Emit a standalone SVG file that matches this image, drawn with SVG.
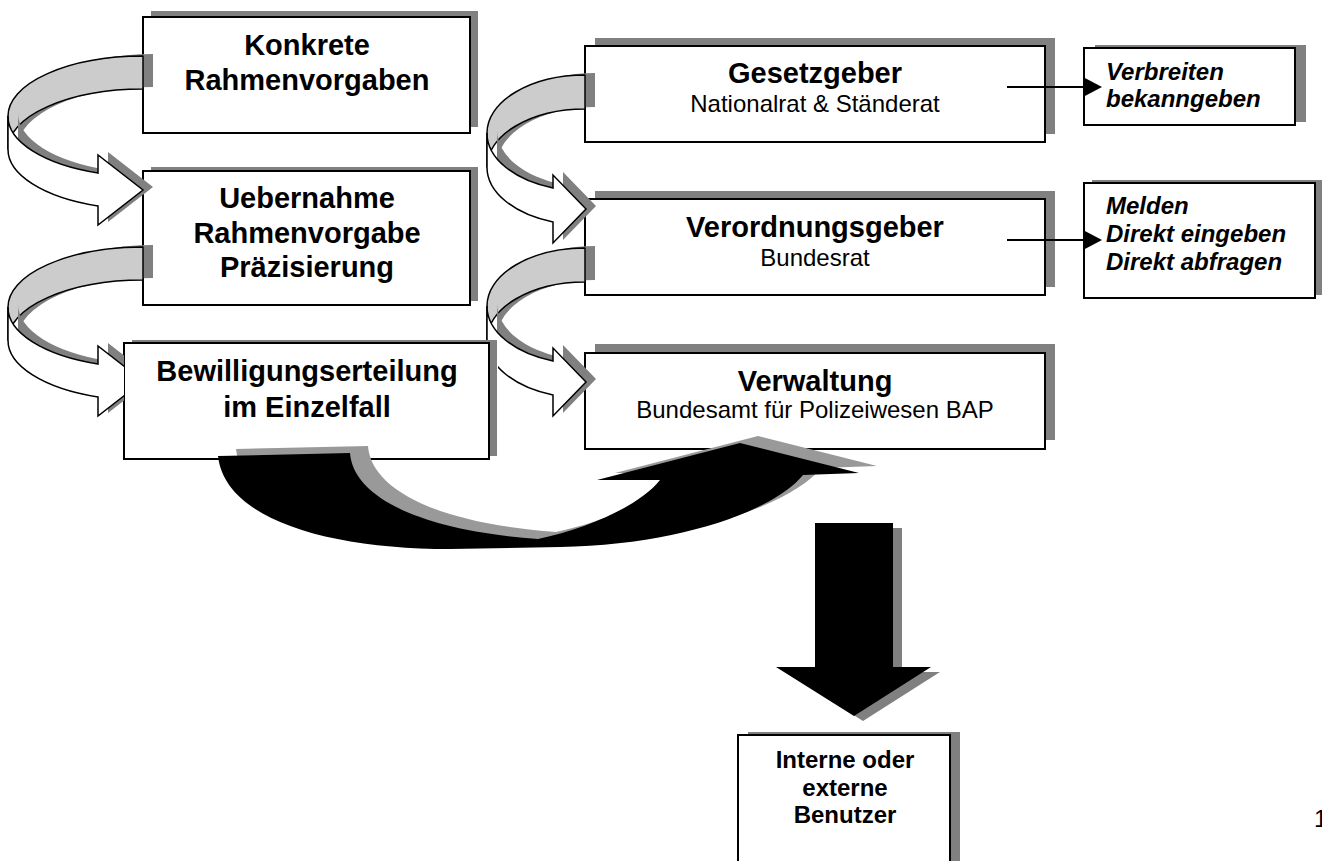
<svg xmlns="http://www.w3.org/2000/svg" width="1322" height="861" viewBox="0 0 1322 861">
<style>
.box{fill:#fff;stroke:#000;stroke-width:2}
.sh{fill:#808080}
.t{font-family:"Liberation Sans",Arial,sans-serif;fill:#000;text-anchor:middle}
.b29{font-size:29px;font-weight:bold}
.r24{font-size:24px}
.bi{font-family:"Liberation Sans",Arial,sans-serif;font-size:24px;font-weight:bold;font-style:italic;fill:#000}
.b24{font-size:24px;font-weight:bold}
.back{fill:#cccccc;stroke:#000;stroke-width:1.5;stroke-linejoin:round}
.front{fill:#fff;stroke:#000;stroke-width:1.5;stroke-linejoin:miter}
.ash{fill:#808080}
.line{stroke:#000;stroke-width:2;fill:none}
</style>
<defs>
<clipPath id="noBox3"><path clip-rule="evenodd" d="M0,0H1322V861H0Z M124,343 L132,343 L132,340 L498,340 L498,456 L489,456 L489,459 L124,459 Z"/></clipPath>
<g id="curveL">
<path class="ash" transform="translate(10,-2)" d="M143,56 A135,60 0 0 0 8,116 L8,149 A135,60 0 0 1 143,89 Z"/>
<path class="back" d="M143,56 A135,60 0 0 0 8,116 L8,149 A135,60 0 0 1 143,89 Z"/>
<path class="ash" transform="translate(10,-3)" d="M8,116 A135,60 0 0 0 98,173 L98,155 L143,190 L98,225 L98,206 A135,60 0 0 1 8,149 Z"/>
<path class="front" d="M8,116 A135,60 0 0 0 98,173 L98,155 L143,190 L98,225 L98,206 A135,60 0 0 1 8,149 Z"/>
</g>
<g id="curveR">
<path class="ash" transform="translate(10,-2)" d="M585,75 A98,58 0 0 0 487,133 L487,167 A98,58 0 0 1 585,109 Z"/>
<path class="back" d="M585,75 A98,58 0 0 0 487,133 L487,167 A98,58 0 0 1 585,109 Z"/>
<path class="ash" transform="translate(10,-3)" d="M487,133 A98,58 0 0 0 553,188 L553,175 L586,209 L553,243 L553,222 A98,58 0 0 1 487,167 Z"/>
<path class="front" d="M487,133 A98,58 0 0 0 553,188 L553,175 L586,209 L553,243 L553,222 A98,58 0 0 1 487,167 Z"/>
</g>
</defs>

<g id="node-konkrete">
<rect class="sh" x="151" y="11" width="327" height="116"/>
<rect class="box" x="143" y="17" width="327" height="116"/>
<text class="t b29" x="307" y="55">Konkrete</text>
<text class="t b29" x="307" y="90">Rahmenvorgaben</text>
</g>
<g id="node-uebernahme">
<rect class="sh" x="151" y="167" width="327" height="134"/>
<rect class="box" x="143" y="171" width="327" height="134"/>
<text class="t b29" x="307" y="208">Uebernahme</text>
<text class="t b29" x="307" y="243">Rahmenvorgabe</text>
<text class="t b29" x="307" y="277">Präzisierung</text>
</g>
<g id="node-gesetzgeber">
<rect class="sh" x="595" y="38" width="460" height="96"/>
<rect class="box" x="585" y="46" width="460" height="96"/>
<text class="t b29" x="815" y="83">Gesetzgeber</text>
<text class="t r24" x="815" y="112">Nationalrat &amp; Ständerat</text>
</g>
<g id="node-verordnungsgeber">
<rect class="sh" x="595" y="191" width="460" height="96"/>
<rect class="box" x="585" y="199" width="460" height="96"/>
<text class="t b29" x="815" y="237">Verordnungsgeber</text>
<text class="t r24" x="815" y="266">Bundesrat</text>
</g>
<g id="node-verwaltung">
<rect class="sh" x="595" y="344" width="460" height="96"/>
<rect class="box" x="585" y="353" width="460" height="96"/>
<text class="t b29" x="815" y="391">Verwaltung</text>
<text class="t r24" x="815" y="418">Bundesamt für Polizeiwesen BAP</text>
</g>
<g id="node-verbreiten">
<rect class="sh" x="1095" y="45" width="211" height="77"/>
<rect class="box" x="1084" y="48" width="211" height="77"/>
<text class="bi" x="1106" y="80">Verbreiten</text>
<text class="bi" x="1106" y="107">bekanngeben</text>
</g>
<g id="node-melden">
<rect class="sh" x="1092" y="180" width="231" height="115"/>
<rect class="box" x="1084" y="183" width="231" height="115"/>
<text class="bi" x="1106" y="214">Melden</text>
<text class="bi" x="1106" y="242">Direkt eingeben</text>
<text class="bi" x="1106" y="270">Direkt abfragen</text>
</g>
<g id="node-benutzer">
<rect class="sh" x="748" y="732" width="212" height="150"/>
<rect class="box" x="738" y="735" width="212" height="150"/>
<text class="t b24" x="845" y="768">Interne oder</text>
<text class="t b24" x="845" y="796">externe</text>
<text class="t b24" x="845" y="823">Benutzer</text>
</g>
<g id="node-bewilligung">
<rect class="sh" x="132" y="340" width="365" height="116"/>
<rect class="box" x="124" y="343" width="365" height="116"/>
<text class="t b29" x="307" y="381">Bewilligungserteilung</text>
<text class="t b29" x="307" y="417">im Einzelfall</text>
</g>

<g id="connectors">
<use href="#curveL"/>
<g clip-path="url(#noBox3)"><use href="#curveL" transform="translate(0,191)"/></g>
<use href="#curveR"/>
<g clip-path="url(#noBox3)"><use href="#curveR" transform="translate(0,173)"/></g>
<g id="big-arrow">
<path fill="#999" transform="translate(18,-7)" d="M218,456 L350,453 C353,495 415,530 538,539 C590,528 640,505 660,480 L597,480 L740,443 L859,473 L803,475 C775,510 680,545 560,547 L450,549 C330,549 225,520 218,456 Z"/>
<path fill="#000" d="M218,456 L350,453 C353,495 415,530 538,539 C590,528 640,505 660,480 L597,480 L740,443 L859,473 L803,475 C775,510 680,545 560,547 L450,549 C330,549 225,520 218,456 Z"/>
</g>
<g id="down-arrow">
<path class="sh" transform="translate(9,5)" d="M815,523 L893,523 L893,667 L931,667 L854,716 L776,667 L815,667 Z"/>
<path fill="#000" d="M815,523 L893,523 L893,667 L931,667 L854,716 L776,667 L815,667 Z"/>
</g>
<line class="line" x1="1007" y1="87" x2="1086" y2="87"/>
<path fill="#000" d="M1083,77 L1102,87 L1083,97 Z"/>
<line class="line" x1="1007" y1="240" x2="1086" y2="240"/>
<path fill="#000" d="M1083,230 L1102,240 L1083,250 Z"/>
</g>
<text style="font-family:'Liberation Sans',Arial,sans-serif;font-size:24px;fill:#000" x="1314" y="827">1</text>
</svg>
